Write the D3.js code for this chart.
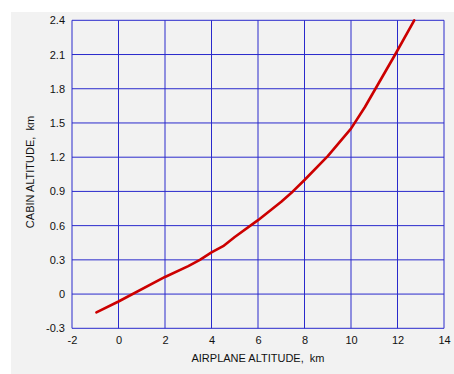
<!DOCTYPE html>
<html><head><meta charset="utf-8">
<script src="https://cdn.jsdelivr.net/npm/d3@7"></script>
<style>body{margin:0;background:#fff}svg{display:block}</style>
</head><body>
<script>
const airplaneAlt = [-0.95, 0, 2, 3, 3.5, 4, 4.5, 5, 6, 7, 7.5, 8, 9, 10, 10.6, 11.9, 12.72];
const cabinAlt    = [-0.16, -0.065, 0.15, 0.245, 0.3, 0.365, 0.42, 0.5, 0.648, 0.81, 0.9, 1.0, 1.21, 1.45, 1.64, 2.1, 2.4];
const xTicks = [-2, 0, 2, 4, 6, 8, 10, 12, 14];
const yTicks = [-0.3, 0, 0.3, 0.6, 0.9, 1.2, 1.5, 1.8, 2.1, 2.4];
const xLabel = "AIRPLANE ALTITUDE,  km";
const yLabel = "CABIN ALTITUDE,  km";

const W = 454, H = 374;
const svg = d3.select("body").append("svg").attr("width", W).attr("height", H);
svg.append("rect").attr("x", 11).attr("y", 12).attr("width", W - 11).attr("height", H - 12).attr("fill", "#f2f2f2");

const x = d3.scaleLinear().domain([-2, 14]).range([72, 444]);
const y = d3.scaleLinear().domain([-0.3, 2.4]).range([328.3, 20.3]);
const gridColor = "#2a2acc";
const font = "Liberation Sans, Arial, sans-serif";

const g = svg.append("g");
g.selectAll("line.v").data(xTicks).join("line")
  .attr("x1", d => x(d)).attr("x2", d => x(d)).attr("y1", y(-0.3)).attr("y2", y(2.4))
  .attr("stroke", gridColor).attr("stroke-width", 1);
g.selectAll("line.h").data(yTicks).join("line")
  .attr("y1", d => y(d)).attr("y2", d => y(d)).attr("x1", x(-2)).attr("x2", x(14))
  .attr("stroke", gridColor).attr("stroke-width", 1);

const xAxis = svg.append("g").attr("transform", `translate(0,${y(-0.3)})`)
  .call(d3.axisBottom(x).tickValues(xTicks).tickSize(0).tickPadding(8).tickFormat(d => String(d)));
xAxis.select(".domain").remove();
xAxis.selectAll("text").attr("font-family", font).attr("font-size", 11).attr("fill", "#111");

const yAxis = svg.append("g").attr("transform", `translate(${x(-2)},0)`)
  .call(d3.axisLeft(y).tickValues(yTicks).tickSize(0).tickPadding(7).tickFormat(d => d === 0 ? "0" : d.toFixed(1)));
yAxis.select(".domain").remove();
yAxis.selectAll("text").attr("font-family", font).attr("font-size", 11).attr("fill", "#111");

const pts = airplaneAlt.map((v, i) => [v, cabinAlt[i]]);
svg.append("path").datum(pts)
  .attr("d", d3.line().x(d => x(d[0])).y(d => y(d[1])).curve(d3.curveLinear))
  .attr("fill", "none").attr("stroke", "#cc0000").attr("stroke-width", 2.6)
  .attr("stroke-linejoin", "round").attr("stroke-linecap", "round");

svg.append("text").attr("x", 258).attr("y", 362).attr("text-anchor", "middle")
  .attr("font-family", font).attr("font-size", 11).attr("fill", "#111")
  .style("white-space", "pre").text(xLabel);
svg.append("text").attr("transform", "translate(34,172) rotate(-90)").attr("text-anchor", "middle")
  .attr("font-family", font).attr("font-size", 11).attr("fill", "#111")
  .style("white-space", "pre").text(yLabel);
</script>
</body></html>
